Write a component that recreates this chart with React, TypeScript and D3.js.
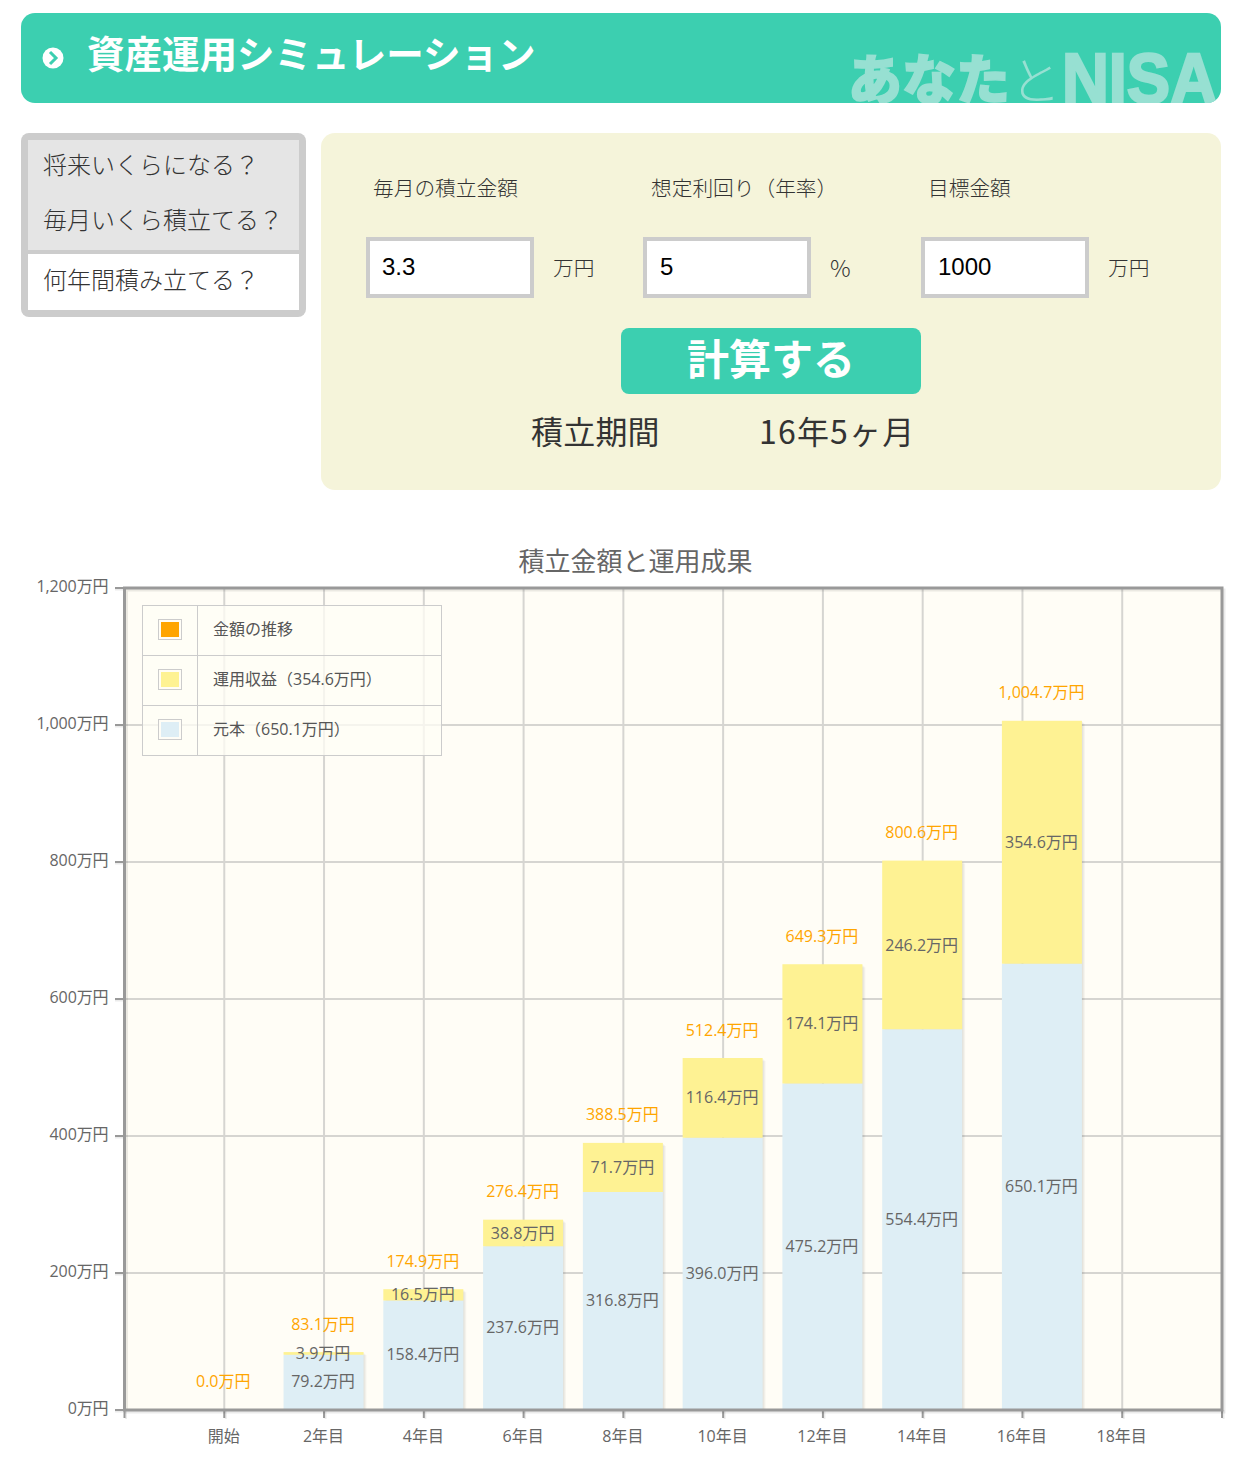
import React from 'react'
import * as d3 from 'd3'

const years = [0, 2, 4, 6, 8, 10, 12, 14, 16.4]
const principal = [0, 79.2, 158.4, 237.6, 316.8, 396.0, 475.2, 554.4, 650.1]
const profit = [0, 3.9, 16.5, 38.8, 71.7, 116.4, 174.1, 246.2, 354.6]
const totals = [0, 83.1, 174.9, 276.4, 388.5, 512.4, 649.3, 800.6, 1004.7]

const xTicks = [-2, 0, 2, 4, 6, 8, 10, 12, 14, 16, 18, 20]
const xLabels = ['', '開始', '2年目', '4年目', '6年目', '8年目', '10年目', '12年目', '14年目', '16年目', '18年目', '']

const legendLabels = ['金額の推移', '運用収益（354.6万円）', '元本（650.1万円）']
const legendColors = ['#ffa500', '#fef293', '#deeef5']

const tabs = ['将来いくらになる？', '毎月いくら積立てる？', '何年間積み立てる？']
const fields = [
  { label: '毎月の積立金額', value: '3.3', unit: '万円', x: 366, labelX: 373, valueX: 382 },
  { label: '想定利回り（年率）', value: '5', unit: '%', x: 643, labelX: 651, valueX: 660 },
  { label: '目標金額', value: '1000', unit: '万円', x: 921, labelX: 928, valueX: 938 },
]

const JP = '"Noto Sans CJK JP", sans-serif'
const CHART = '"Open Sans", "Noto Sans CJK JP", sans-serif'
const TEAL = '#3ccfb0'

const x = d3.scaleLinear().domain([-2, 20]).range([124.5, 1222])
const y = d3.scaleLinear().domain([0, 1200]).range([1410, 588])
const fmt = d3.format(',.1f')
const yFmt = d3.format(',d')
const barW = 80

function Chart() {
  const left = x(-2)
  const right = x(20)
  const top = y(1200)
  const bottom = y(0)
  return (
    <g fontFamily={CHART}>
      <text x={635.5} y={571} textAnchor="middle" fontFamily={JP} fontSize={26} fill="#666">積立金額と運用成果</text>

      <rect x={left} y={top} width={right - left} height={bottom - top} fill="#fffdf6" />

      {y.ticks(6).map(t => (
        <g key={t}>
          {t > 0 && t < 1200 && <line x1={left} x2={right} y1={y(t)} y2={y(t)} stroke="#d6d5d1" strokeWidth={2} />}
          <line x1={115} x2={left} y1={y(t) + 1.5} y2={y(t) + 1.5} stroke="#000" strokeOpacity={0.08} strokeWidth={2} />
          <line x1={115} x2={left} y1={y(t)} y2={y(t)} stroke="#999" strokeWidth={2} />
          <text x={108.5} y={y(t) - 2} dy="0.35em" textAnchor="end" fontSize={16} letterSpacing={-0.1} fill="#666">{yFmt(t)}万円</text>
        </g>
      ))}

      {xTicks.map((t, i) => (
        <g key={t}>
          {i > 0 && i < xTicks.length - 1 && <line x1={x(t)} x2={x(t)} y1={top} y2={bottom} stroke="#d6d5d1" strokeWidth={2} />}
          <line x1={x(t) + 1.5} x2={x(t) + 1.5} y1={bottom} y2={1419} stroke="#000" strokeOpacity={0.08} strokeWidth={2} />
          <line x1={x(t)} x2={x(t)} y1={bottom} y2={1418} stroke="#999" strokeWidth={2} />
          {xLabels[i] && <text x={x(t) - 0.5} y={1436} dy="0.35em" textAnchor="middle" fontSize={16} fill="#666">{xLabels[i]}</text>}
        </g>
      ))}

      {years.map((yr, i) => {
        if (totals[i] === 0) return null
        const bx = x(yr) - barW / 2 - 0.5
        const yMid = y(principal[i]) - 1
        const yTop = y(totals[i]) - 1
        return (
          <g key={yr}>
            {[1, 2, 3].map(o => (
              <rect key={o} x={bx + o} y={yTop + o} width={barW} height={bottom - yTop - o} fill="#000" fillOpacity={0.035} />
            ))}
            <rect x={bx} y={yMid} width={barW} height={bottom - yMid} fill={legendColors[2]} />
            <rect x={bx} y={yTop} width={barW} height={yMid - yTop} fill={legendColors[1]} />
          </g>
        )
      })}

      <rect x={left} y={top} width={right - left} height={bottom - top} fill="none" stroke="#000" strokeOpacity={0.08} strokeWidth={3} transform="translate(2,2)" />
      <rect x={left} y={top} width={right - left} height={bottom - top} fill="none" stroke="#999" strokeWidth={3} />

      {years.map((yr, i) => (
        <g key={yr} fontSize={16} textAnchor="middle">
          <text x={x(yr) - 1} y={y(totals[i]) - 29} dy="0.35em" fill="#ffa500">{fmt(totals[i])}万円</text>
          {totals[i] > 0 && <text x={x(yr) - 1} y={(y(principal[i]) + bottom) / 2 - 1} dy="0.35em" fill="#666">{fmt(principal[i])}万円</text>}
          {totals[i] > 0 && <text x={x(yr) - 1} y={(y(totals[i]) + y(principal[i])) / 2 - 1} dy="0.35em" fill="#666">{fmt(profit[i])}万円</text>}
        </g>
      ))}

      <g>
        <rect x={142.5} y={605.5} width={299} height={150} fill="#fffdf6" fillOpacity={0.75} stroke="#ccc" />
        <line x1={197.5} x2={197.5} y1={605.5} y2={755.5} stroke="#ccc" />
        {legendLabels.map((l, i) => (
          <g key={l}>
            {i > 0 && <line x1={142.5} x2={441.5} y1={605.5 + i * 50} y2={605.5 + i * 50} stroke="#ccc" />}
            <rect x={158.5} y={619.5 + i * 50} width={23} height={20} fill="#fffdf6" stroke="#ccc" />
            <rect x={161} y={622 + i * 50} width={18} height={15} fill={legendColors[i]} />
            <text x={213} y={629 + i * 50} dy="0.35em" fontSize={16} fill="#555">{l}</text>
          </g>
        ))}
      </g>
    </g>
  )
}

function Form() {
  return (
    <g fontFamily={JP}>
      <defs>
        <clipPath id="headerClip"><rect x={21} y={13} width={1200} height={90} rx={14} /></clipPath>
      </defs>
      <rect x={21} y={13} width={1200} height={90} rx={14} fill={TEAL} />
      <circle cx={53} cy={58} r={10.5} fill="#fff" />
      <path d="M50 52 L56 58 L50 64" fill="none" stroke={TEAL} strokeWidth={3} />
      <text x={87} y={68} fontSize={37.5} fontWeight={700} fill="#fff">資産運用シミュレーション</text>
      <g clipPath="url(#headerClip)" fill="#97e0d2">
        <text x={848} y={100} fontSize={54} fontWeight={900} stroke="#97e0d2" strokeWidth={1.5}>あなた</text>
        <text x={1010} y={100} fontSize={51} fontWeight={300}>と</text>
        <text x={1062} y={103} fontSize={70} fontWeight={700} fontFamily='"Liberation Sans", sans-serif' stroke="#97e0d2" strokeWidth={2.5} textLength={155} lengthAdjust="spacingAndGlyphs">NISA</text>
      </g>

      <rect x={21} y={133} width={285} height={184} rx={8} fill="#ccc" />
      <rect x={28} y={140} width={271} height={110} fill="#e5e5e5" />
      <rect x={28} y={254} width={271} height={56} fill="#fff" />
      {tabs.map((t, i) => (
        <text key={t} x={43} y={[165, 220, 280][i]} dy="0.37em" fontSize={24} fontWeight={300} fill="#333">{t}</text>
      ))}

      <rect x={321} y={133} width={900} height={357} rx={14} fill="#f5f4da" />
      {fields.map(f => (
        <g key={f.label}>
          <text x={f.labelX} y={188} dy="0.37em" fontSize={20.7} fontWeight={300} fill="#333">{f.label}</text>
          <rect x={f.x + 2} y={239} width={164} height={57} fill="#fff" stroke="#ccc" strokeWidth={4} />
          <text x={f.valueX} y={275} fontSize={24} fontFamily='"Liberation Sans", Arial, sans-serif' fill="#000">{f.value}</text>
          <text x={f.x + 187} y={268} dy="0.37em" fontSize={f.unit === '%' ? 23 : 20.7} fontWeight={300} fill="#333">{f.unit}</text>
        </g>
      ))}

      <rect x={621} y={328} width={300} height={66} rx={8} fill={TEAL} />
      <text x={771} y={359} dy="0.37em" textAnchor="middle" fontSize={42} fontWeight={700} fill="#fff">計算する</text>
      <text x={531} y={432} dy="0.37em" fontSize={32} letterSpacing={0.2} fill="#333">積立期間</text>
      <text x={759} y={432} dy="0.37em" fontSize={32} letterSpacing={1.2} fill="#333">16年5ヶ月</text>
    </g>
  )
}

export default function App() {
  return (
    <svg width={1240} height={1476} viewBox="0 0 1240 1476" style={{ position: 'absolute', left: 0, top: 0, background: '#fff' }}>
      <Form />
      <Chart />
    </svg>
  )
}
